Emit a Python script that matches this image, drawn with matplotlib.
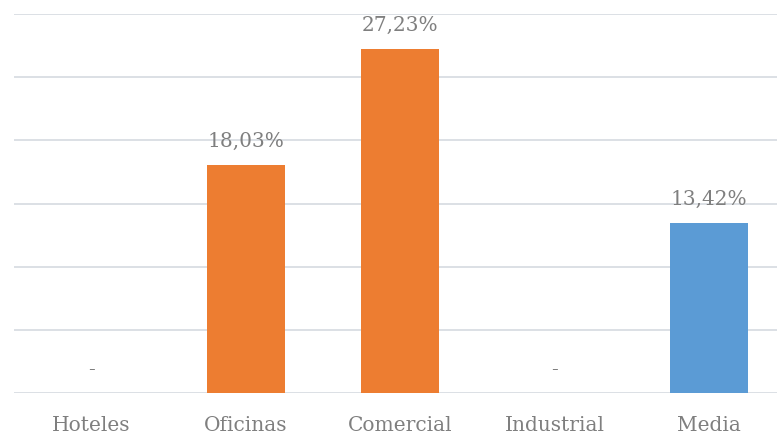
import matplotlib
matplotlib.use("Agg")
import matplotlib.pyplot as plt

categories = ["Hoteles", "Oficinas", "Comercial", "Industrial", "Media"]
values = [0.0, 18.03, 27.23, 0.0, 13.42]
labels = ["-", "18,03%", "27,23%", "-", "13,42%"]

ORANGE, BLUE, GRAY, GRID = "#ed7d31", "#5b9bd5", "#7f7f7f", "#d9dde3"
colors = [ORANGE, ORANGE, ORANGE, ORANGE, BLUE]

plt.rcParams["font.family"] = ["DejaVu Serif"]

fig = plt.figure(figsize=(7.77, 4.35), dpi=100)
ax = fig.add_axes([14 / 777, 41 / 435, 772 / 777, 379 / 435])
x = range(len(categories))
bars = ax.bar(x, values, width=0.505, color=colors, zorder=3)

for b, v, lab in zip(bars, values, labels):
    ax.annotate(lab, (b.get_x() + b.get_width() / 2, v), xytext=(0, 11),
                textcoords="offset points", ha="center", va="bottom",
                fontsize=14.5, color=GRAY)

ax.set_xlim(-0.5, 4.5)
ax.set_ylim(0, 30)
ax.set_yticks(range(0, 31, 5))
ax.yaxis.grid(True, color=GRID, linewidth=1.3, zorder=0)
ax.tick_params(axis="y", left=False, labelleft=False)
ax.tick_params(axis="x", bottom=False, labelsize=14.5, labelcolor=GRAY, pad=12)
ax.set_xticks(list(x))
ax.set_xticklabels(categories)
for s in ax.spines.values():
    s.set_visible(False)

fig.savefig("out.png", dpi=100)
